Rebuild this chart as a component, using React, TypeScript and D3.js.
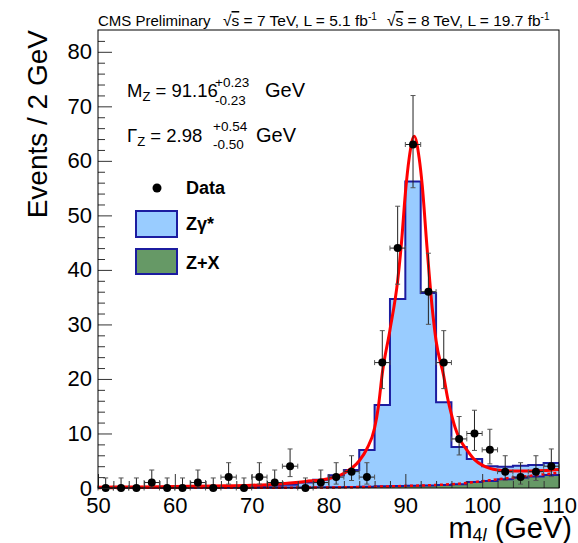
import React, { useEffect, useRef } from 'react';
import * as d3 from 'd3';

// bin centres (2 GeV bins, 50-110)
const binCenters = [51, 53, 55, 57, 59, 61, 63, 65, 67, 69, 71, 73, 75, 77, 79, 81, 83, 85, 87, 89, 91, 93, 95, 97, 99, 101, 103, 105, 107, 109];
const dataCounts = [0, 0, 0, 1, 0, 0, 1, 0, 2, 0, 2, 1, 4, 0, 1, 2, 3, 2, 23, 44, 63, 36, 23, 9, 10, 7, 3, 2, 3, 4];
const errLow = [0, 0, 0, 0.83, 0, 0, 0.83, 0, 1.29, 0, 1.29, 0.83, 1.91, 0, 0.83, 1.29, 1.63, 1.29, 4.77, 6.62, 7.93, 5.98, 4.77, 2.94, 3.11, 2.58, 1.63, 1.29, 1.63, 1.91];
const errHigh = [1.84, 1.84, 1.84, 2.3, 1.84, 1.84, 2.3, 1.84, 2.64, 1.84, 2.64, 2.3, 3.16, 1.84, 2.3, 2.64, 2.92, 2.64, 5.86, 7.68, 8.98, 7.06, 5.86, 4.11, 4.26, 3.77, 2.92, 2.64, 2.92, 3.16];

// stacked MC
const zxValues = [0.03, 0.03, 0.03, 0.03, 0.03, 0.03, 0.03, 0.03, 0.03, 0.03, 0.05, 0.06, 0.08, 0.1, 0.12, 0.15, 0.2, 0.25, 0.3, 0.35, 0.4, 0.45, 0.55, 0.7, 1.1, 1.3, 1.6, 1.9, 2.1, 2.4];
const zgValues = [0.07, 0.07, 0.07, 0.1, 0.1, 0.15, 0.15, 0.15, 0.2, 0.25, 0.3, 0.35, 0.5, 0.9, 1.4, 2.2, 3.1, 6.7, 14.9, 34.3, 55.8, 35.3, 15.2, 6.8, 4.2, 2.7, 2.3, 2.2, 2.1, 2.2];

// fit curves
const fitMass = [50, 55, 60, 65, 70, 74, 77, 80, 82, 84, 85, 86, 86.5, 87, 88, 89, 89.5, 90, 90.5, 91.15, 91.8, 92.2, 92.8, 93.5, 94, 95, 95.5, 96, 96.5, 97, 98, 99, 100, 101, 102, 104, 106, 108, 110];
const fitValues = [0.15, 0.2, 0.28, 0.38, 0.5, 0.8, 1.2, 1.7, 2.7, 5.0, 7.2, 11, 15, 21, 29, 38, 45, 54, 60.5, 64.5, 60.5, 55.5, 44.5, 33, 27, 20.5, 16.5, 13.5, 11, 9.2, 7.0, 5.2, 4.2, 3.6, 3.3, 3.1, 3.1, 3.2, 3.4];
const bkgMass = [50, 60, 70, 80, 85, 90, 94, 97, 100, 102, 105, 108, 110];
const bkgValues = [0.02, 0.03, 0.05, 0.1, 0.2, 0.38, 0.55, 0.8, 1.25, 1.6, 2.05, 2.5, 2.8];

const xTicks = [50, 60, 70, 80, 90, 100, 110];
const yTicks = [0, 10, 20, 30, 40, 50, 60, 70, 80];

const FONT = '"Liberation Sans", Arial, Helvetica, sans-serif';
const LEFT = 98, RIGHT = 559, TOP = 30, BOTTOM = 488;

const App = () => {
    const plotRef = useRef(null);

    useEffect(() => {
        const g = d3.select(plotRef.current);
        g.selectAll('*').remove();

        const x = d3.scaleLinear().domain([50, 110]).range([LEFT, RIGHT]);
        const y = d3.scaleLinear().domain([0, 84]).range([BOTTOM, TOP]);
        const half = 1;

        const totals = zgValues.map((v, i) => v + zxValues[i]);
        const edges = binCenters.map(c => c - half).concat([binCenters[binCenters.length - 1] + half]);
        const steps = (vals) => edges.map((e, i) => [e, vals[Math.min(i, vals.length - 1)]]);

        const stepLine = d3.line().curve(d3.curveStepAfter).x(d => x(d[0])).y(d => y(d[1]));
        const stepArea = d3.area().curve(d3.curveStepAfter).x(d => x(d[0])).y0(y(0)).y1(d => y(d[1]));

        // Z gamma* (stack total)
        g.append('path').attr('d', stepArea(steps(totals))).attr('fill', '#99ccff');
        g.append('path').attr('d', stepLine(steps(totals))).attr('fill', 'none').attr('stroke', '#1c1ca0').attr('stroke-width', 2);
        // Z+X
        g.append('path').attr('d', stepArea(steps(zxValues))).attr('fill', '#669966');
        g.append('path').attr('d', stepLine(steps(zxValues))).attr('fill', 'none').attr('stroke', '#1c1ca0').attr('stroke-width', 2);

        // fit curves
        const curveLine = d3.line().curve(d3.curveMonotoneX).x(d => x(d[0])).y(d => y(d[1]));
        g.append('path')
            .attr('d', curveLine(bkgMass.map((m, i) => [m, bkgValues[i]])))
            .attr('fill', 'none').attr('stroke', '#ff0000').attr('stroke-width', 2.5)
            .attr('stroke-dasharray', '3,3');
        g.append('path')
            .attr('d', curveLine(fitMass.map((m, i) => [m, fitValues[i]])))
            .attr('fill', 'none').attr('stroke', '#ff0000').attr('stroke-width', 3);

        // data points with asymmetric errors
        const pts = g.append('g');
        binCenters.forEach((c, i) => {
            const n = dataCounts[i];
            const cx = x(c), cy = y(n);
            const yHi = y(n + errHigh[i]), yLo = y(n - errLow[i]);
            pts.append('line').attr('x1', cx).attr('x2', cx).attr('y1', yLo).attr('y2', yHi).attr('stroke', '#222');
            pts.append('line').attr('x1', cx - 2.5).attr('x2', cx + 2.5).attr('y1', yHi).attr('y2', yHi).attr('stroke', '#555');
            if (errLow[i] > 0) pts.append('line').attr('x1', cx - 2.5).attr('x2', cx + 2.5).attr('y1', yLo).attr('y2', yLo).attr('stroke', '#555');
            const xl = x(c - half), xr = x(c + half);
            pts.append('line').attr('x1', xl).attr('x2', xr).attr('y1', cy).attr('y2', cy).attr('stroke', '#222');
            pts.append('line').attr('x1', xl).attr('x2', xl).attr('y1', cy - 2.5).attr('y2', cy + 2.5).attr('stroke', '#555');
            pts.append('line').attr('x1', xr).attr('x2', xr).attr('y1', cy - 2.5).attr('y2', cy + 2.5).attr('stroke', '#555');
            pts.append('circle').attr('cx', cx).attr('cy', cy).attr('r', 4).attr('fill', '#000');
        });

        // axes, ticks pointing inward like ROOT
        const xAxis = g.append('g').attr('transform', `translate(0,${BOTTOM})`)
            .call(d3.axisBottom(x).tickValues(xTicks).tickSizeInner(-14).tickSizeOuter(0).tickPadding(9));
        g.append('g').attr('transform', `translate(0,${BOTTOM})`)
            .call(d3.axisBottom(x).tickValues(d3.range(52, 110, 2).filter(v => v % 10 !== 0)).tickSizeInner(-7).tickSizeOuter(0).tickFormat(() => ''));
        const yAxis = g.append('g').attr('transform', `translate(${LEFT},0)`)
            .call(d3.axisLeft(y).tickValues(yTicks).tickSizeInner(-14).tickSizeOuter(0).tickPadding(6));
        g.append('g').attr('transform', `translate(${LEFT},0)`)
            .call(d3.axisLeft(y).tickValues(d3.range(2, 84, 2).filter(v => v % 10 !== 0)).tickSizeInner(-7).tickSizeOuter(0).tickFormat(() => ''));
        g.selectAll('.domain').remove();
        g.selectAll('.tick line').attr('stroke', '#333');
        [xAxis, yAxis].forEach(a => a.selectAll('text')
            .attr('font-family', FONT).attr('font-size', 22).attr('fill', '#000'));

        // frame
        g.append('rect').attr('x', LEFT).attr('y', TOP).attr('width', RIGHT - LEFT).attr('height', BOTTOM - TOP)
            .attr('fill', 'none').attr('stroke', '#000').attr('stroke-width', 1);
    }, []);

    const t = { fontFamily: FONT, fill: '#000' };

    return (
        <svg width="578" height="543" style={{ position: 'absolute', left: 0, top: 0, background: '#fff' }}>
            <g ref={plotRef} />

            {/* header */}
            <text x={98} y={26} fontSize={15} style={t}>CMS Preliminary</text>
            <text x={223} y={26} fontSize={15.5} style={t}>
                √<tspan textDecoration="overline">s</tspan> = 7 TeV, L = 5.1 fb<tspan fontSize={10} dy={-6}>-1</tspan>
            </text>
            <text x={387} y={26} fontSize={15.5} style={t}>
                √<tspan textDecoration="overline">s</tspan> = 8 TeV, L = 19.7 fb<tspan fontSize={10} dy={-6}>-1</tspan>
            </text>

            {/* axis titles */}
            <text transform="translate(47,30) rotate(-90)" textAnchor="end" fontSize={28} style={t}>Events / 2 GeV</text>
            <text x={572} y={538} textAnchor="end" fontSize={29} style={t}>
                m<tspan fontSize={18} dy={3}>4</tspan><tspan fontSize={18} fontStyle="italic">l</tspan><tspan dy={-3}> (GeV)</tspan>
            </text>

            {/* fit results */}
            <text x={127} y={97} fontSize={18.5} style={t}>M<tspan fontSize={13} dy={4}>Z</tspan><tspan dy={-4}> = 91.16</tspan></text>
            <text x={215} y={87} fontSize={13.5} style={t}>+0.23</text>
            <text x={215} y={105} fontSize={13.5} style={t}>-0.23</text>
            <text x={265} y={97} fontSize={20} style={t}>GeV</text>

            <text x={127} y={142} fontSize={18.5} style={t}>Γ<tspan fontSize={13} dy={4}>Z</tspan><tspan dy={-4}> = 2.98</tspan></text>
            <text x={213} y={131} fontSize={13.5} style={t}>+0.54</text>
            <text x={213} y={149} fontSize={13.5} style={t}>-0.50</text>
            <text x={256} y={142} fontSize={20} style={t}>GeV</text>

            {/* legend */}
            <circle cx={157} cy={188} r={4.5} fill="#000" />
            <text x={186} y={194} fontSize={18} fontWeight="bold" style={t}>Data</text>
            <rect x={136} y={211} width={41} height={26} fill="#99ccff" stroke="#1c1ca0" strokeWidth={2} />
            <text x={186} y={230} fontSize={18} fontWeight="bold" style={t}>Zγ*</text>
            <rect x={136} y={249} width={41} height={25} fill="#669966" stroke="#1c1ca0" strokeWidth={2} />
            <text x={186} y={269} fontSize={18} fontWeight="bold" style={t}>Z+X</text>
        </svg>
    );
};

export default App;
